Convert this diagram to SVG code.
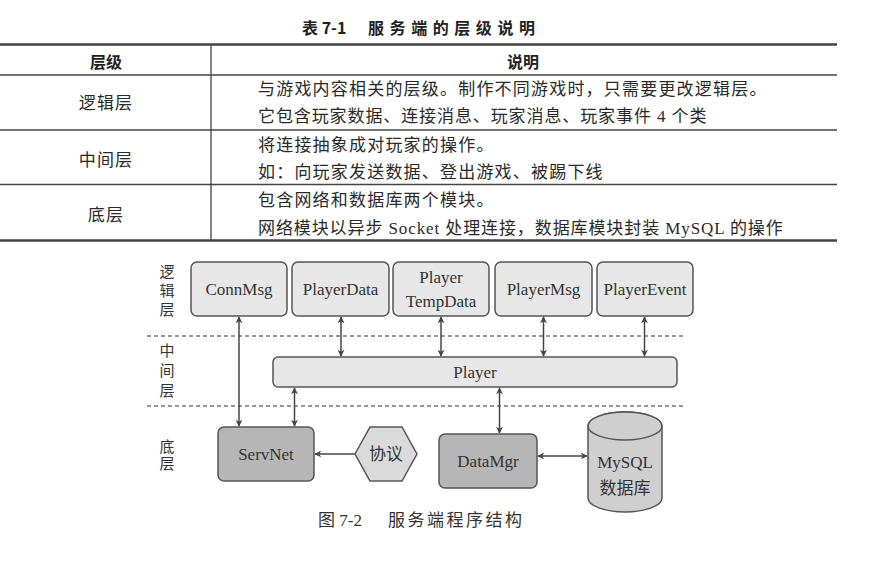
<svg xmlns="http://www.w3.org/2000/svg" width="881" height="562" viewBox="0 0 881 562">
<style>
.tbl{fill:#2a2a2a;font-family:"Liberation Serif","Noto Sans CJK SC",serif;font-size:17px;letter-spacing:1.2px}
.hd{fill:#222;font-family:"Noto Sans CJK SC","Liberation Sans",sans-serif;font-size:16px;font-weight:bold}
.lbl{fill:#333;font-family:"Liberation Serif","Noto Sans CJK SC",serif;font-size:17px;text-anchor:middle}
.cap{fill:#333;font-family:"Liberation Serif","Noto Sans CJK SC",serif;font-size:17px}
.vl{fill:#333;font-family:"Noto Sans CJK SC",sans-serif;font-size:15px;writing-mode:vertical-rl}
.box{fill:#e7e7e7;stroke:#555;stroke-width:1.5}
.dark{fill:#b6b6b6;stroke:#555;stroke-width:1.5}
.conn{stroke:#444;stroke-width:1.5;fill:none}
.dash{stroke:#777;stroke-width:1.5;stroke-dasharray:4 3}
.rule{stroke:#444}
</style>
<defs>
<marker id="ah" viewBox="0 0 10 10" refX="9" refY="5" markerWidth="7" markerHeight="7" orient="auto-start-reverse" markerUnits="userSpaceOnUse">
<path d="M0,0 L10,5 L0,10 L3,5 Z" fill="#444"/>
</marker>
</defs>
<rect width="881" height="562" fill="#fff"/>

<!-- table -->
<g id="table">
<text class="hd" x="302" y="34" font-size="17">表 7-1</text>
<text class="hd" x="368" y="34" font-size="17" textLength="167" lengthAdjust="spacing">服务端的层级说明</text>
<line class="rule" x1="0" y1="44.5" x2="837" y2="44.5" stroke-width="2.5"/>
<line class="rule" x1="0" y1="75" x2="837" y2="75" stroke-width="1.5"/>
<line class="rule" x1="0" y1="130" x2="837" y2="130" stroke-width="1.3"/>
<line class="rule" x1="0" y1="184.5" x2="837" y2="184.5" stroke-width="1.3"/>
<line class="rule" x1="0" y1="240.5" x2="837" y2="240.5" stroke-width="2.5"/>
<line class="rule" x1="211" y1="44" x2="211" y2="241" stroke-width="1.3"/>
<text class="hd" x="106" y="67.5" text-anchor="middle">层级</text>
<text class="hd" x="523" y="67.5" text-anchor="middle">说明</text>
<text class="tbl" x="106" y="109" text-anchor="middle">逻辑层</text>
<text class="tbl" x="106" y="166" text-anchor="middle">中间层</text>
<text class="tbl" x="106" y="221" text-anchor="middle">底层</text>
<text class="tbl" x="258" y="95">与游戏内容相关的层级。制作不同游戏时，只需要更改逻辑层。</text>
<text class="tbl" x="258" y="122" style="letter-spacing:0.9px">它包含玩家数据、连接消息、玩家消息、玩家事件 4 个类</text>
<text class="tbl" x="258" y="151">将连接抽象成对玩家的操作。</text>
<text class="tbl" x="258" y="177.5">如：向玩家发送数据、登出游戏、被踢下线</text>
<text class="tbl" x="258" y="206">包含网络和数据库两个模块。</text>
<text class="tbl" x="258" y="233.5" style="letter-spacing:0.9px">网络模块以异步 Socket 处理连接，数据库模块封装 MySQL 的操作</text>
</g>

<!-- layer labels -->
<g id="layer-labels">
<text class="vl" x="167" y="264" style="letter-spacing:3.7px">逻辑层</text>
<text class="vl" x="167" y="342.5" style="letter-spacing:5px">中间层</text>
<text class="vl" x="167" y="439" style="letter-spacing:1.6px">底层</text>
</g>

<g id="dividers">
<line class="dash" x1="147" y1="336" x2="686" y2="336"/>
<line class="dash" x1="147" y1="406" x2="686" y2="406"/>
</g>

<!-- connectors -->
<g id="connectors">
<line class="conn" x1="239" y1="317" x2="239" y2="426" marker-start="url(#ah)" marker-end="url(#ah)"/>
<line class="conn" x1="341" y1="317" x2="341" y2="356" marker-start="url(#ah)" marker-end="url(#ah)"/>
<line class="conn" x1="441" y1="317" x2="441" y2="356" marker-start="url(#ah)" marker-end="url(#ah)"/>
<line class="conn" x1="543.5" y1="317" x2="543.5" y2="356" marker-start="url(#ah)" marker-end="url(#ah)"/>
<line class="conn" x1="644.5" y1="317" x2="644.5" y2="356" marker-start="url(#ah)" marker-end="url(#ah)"/>
<line class="conn" x1="294.5" y1="388" x2="294.5" y2="426" marker-start="url(#ah)" marker-end="url(#ah)"/>
<line class="conn" x1="499.5" y1="388" x2="499.5" y2="433" marker-start="url(#ah)" marker-end="url(#ah)"/>
<line class="conn" x1="355" y1="454" x2="315" y2="454" marker-end="url(#ah)"/>
<line class="conn" x1="538" y1="456" x2="587" y2="456" marker-start="url(#ah)" marker-end="url(#ah)"/>
</g>

<!-- logic layer nodes -->
<g id="ConnMsg"><rect class="box" x="191" y="262" width="96" height="54" rx="6"/><text class="lbl" x="239" y="295">ConnMsg</text></g>
<g id="PlayerData"><rect class="box" x="292" y="262" width="97" height="54" rx="6"/><text class="lbl" x="340.5" y="295">PlayerData</text></g>
<g id="PlayerTempData"><rect class="box" x="393" y="262" width="96" height="54" rx="6"/><text class="lbl" x="441" y="283">Player</text><text class="lbl" x="441" y="307">TempData</text></g>
<g id="PlayerMsg"><rect class="box" x="495" y="262" width="97" height="54" rx="6"/><text class="lbl" x="543.5" y="295">PlayerMsg</text></g>
<g id="PlayerEvent"><rect class="box" x="597" y="262" width="96" height="54" rx="6"/><text class="lbl" x="645" y="295">PlayerEvent</text></g>

<!-- middle layer -->
<g id="Player"><rect class="box" x="273" y="357" width="404" height="30" rx="5"/><text class="lbl" x="475" y="378">Player</text></g>

<!-- bottom layer -->
<g id="ServNet"><rect class="dark" x="218" y="427" width="96" height="54" rx="6"/><text class="lbl" x="266" y="460">ServNet</text></g>
<g id="Protocol"><polygon points="355,454 370,427 402,427 417,454 402,481 370,481" fill="#dadada" stroke="#555" stroke-width="1.5"/><text class="lbl" x="386" y="460">协议</text></g>
<g id="DataMgr"><rect class="dark" x="439" y="434" width="98" height="54" rx="6"/><text class="lbl" x="488" y="467">DataMgr</text></g>
<g id="MySQL">
<path d="M588,426 L588,498 A37,14 0 0 0 662,498 L662,426 A37,14 0 0 0 588,426 Z" fill="#cfcfcf" stroke="#555" stroke-width="1.5"/>
<ellipse cx="625" cy="426" rx="37" ry="14" fill="#cfcfcf" stroke="#555" stroke-width="1.5"/>
<text class="lbl" x="625" y="468">MySQL</text>
<text class="lbl" x="625" y="494">数据库</text>
</g>

<g id="caption">
<text class="cap" x="318" y="526">图 7-2</text>
<text class="cap" x="388" y="526" textLength="134" lengthAdjust="spacing">服务端程序结构</text>
</g>
</svg>
